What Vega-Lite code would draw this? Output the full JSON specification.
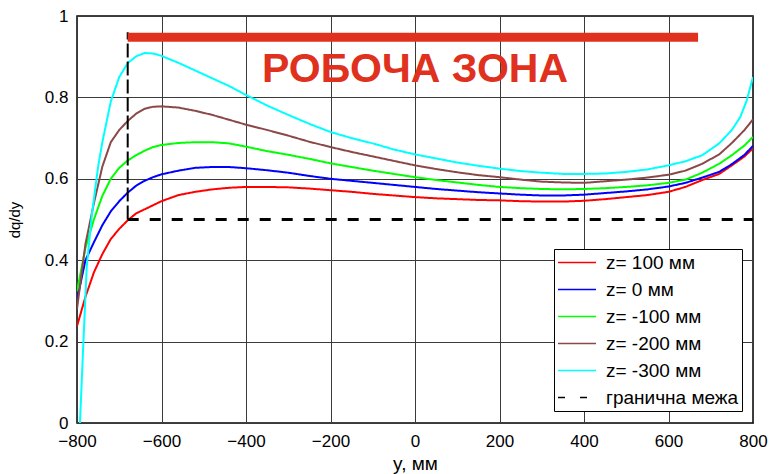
{
  "$schema": "https://vega.github.io/schema/vega-lite/v6.json",
  "width": 676,
  "height": 407,
  "autosize": {"type": "none"},
  "padding": {"left": 77, "top": 16, "right": 23, "bottom": 51},
  "background": "#ffffff",
  "datasets": {
    "curves": [
      {"s": "z= 100 мм", "x": -800, "y": 0.238}, {"s": "z= 100 мм", "x": -780, "y": 0.31}, {"s": "z= 100 мм", "x": -760, "y": 0.37}, {"s": "z= 100 мм", "x": -740, "y": 0.415}, {"s": "z= 100 мм", "x": -720, "y": 0.452}, {"s": "z= 100 мм", "x": -700, "y": 0.477}, {"s": "z= 100 мм", "x": -680, "y": 0.498}, {"s": "z= 100 мм", "x": -660, "y": 0.515}, {"s": "z= 100 мм", "x": -640, "y": 0.525}, {"s": "z= 100 мм", "x": -620, "y": 0.535}, {"s": "z= 100 мм", "x": -600, "y": 0.545}, {"s": "z= 100 мм", "x": -560, "y": 0.56}, {"s": "z= 100 мм", "x": -520, "y": 0.568}, {"s": "z= 100 мм", "x": -480, "y": 0.574}, {"s": "z= 100 мм", "x": -440, "y": 0.578}, {"s": "z= 100 мм", "x": -400, "y": 0.58}, {"s": "z= 100 мм", "x": -350, "y": 0.58}, {"s": "z= 100 мм", "x": -300, "y": 0.579}, {"s": "z= 100 мм", "x": -250, "y": 0.576}, {"s": "z= 100 мм", "x": -200, "y": 0.572}, {"s": "z= 100 мм", "x": -150, "y": 0.568}, {"s": "z= 100 мм", "x": -100, "y": 0.563}, {"s": "z= 100 мм", "x": -50, "y": 0.559}, {"s": "z= 100 мм", "x": 0, "y": 0.555}, {"s": "z= 100 мм", "x": 50, "y": 0.552}, {"s": "z= 100 мм", "x": 100, "y": 0.55}, {"s": "z= 100 мм", "x": 150, "y": 0.548}, {"s": "z= 100 мм", "x": 200, "y": 0.547}, {"s": "z= 100 мм", "x": 250, "y": 0.545}, {"s": "z= 100 мм", "x": 300, "y": 0.544}, {"s": "z= 100 мм", "x": 350, "y": 0.544}, {"s": "z= 100 мм", "x": 400, "y": 0.546}, {"s": "z= 100 мм", "x": 450, "y": 0.55}, {"s": "z= 100 мм", "x": 500, "y": 0.555}, {"s": "z= 100 мм", "x": 550, "y": 0.56}, {"s": "z= 100 мм", "x": 600, "y": 0.568}, {"s": "z= 100 мм", "x": 640, "y": 0.58}, {"s": "z= 100 мм", "x": 680, "y": 0.597}, {"s": "z= 100 мм", "x": 720, "y": 0.612}, {"s": "z= 100 мм", "x": 750, "y": 0.633}, {"s": "z= 100 мм", "x": 780, "y": 0.655}, {"s": "z= 100 мм", "x": 800, "y": 0.675},

      {"s": "z= 0 мм", "x": -800, "y": 0.302}, {"s": "z= 0 мм", "x": -780, "y": 0.4}, {"s": "z= 0 мм", "x": -760, "y": 0.444}, {"s": "z= 0 мм", "x": -740, "y": 0.486}, {"s": "z= 0 мм", "x": -720, "y": 0.52}, {"s": "z= 0 мм", "x": -700, "y": 0.545}, {"s": "z= 0 мм", "x": -680, "y": 0.566}, {"s": "z= 0 мм", "x": -660, "y": 0.583}, {"s": "z= 0 мм", "x": -640, "y": 0.595}, {"s": "z= 0 мм", "x": -620, "y": 0.604}, {"s": "z= 0 мм", "x": -600, "y": 0.611}, {"s": "z= 0 мм", "x": -560, "y": 0.62}, {"s": "z= 0 мм", "x": -520, "y": 0.627}, {"s": "z= 0 мм", "x": -480, "y": 0.629}, {"s": "z= 0 мм", "x": -440, "y": 0.629}, {"s": "z= 0 мм", "x": -400, "y": 0.626}, {"s": "z= 0 мм", "x": -350, "y": 0.621}, {"s": "z= 0 мм", "x": -300, "y": 0.615}, {"s": "z= 0 мм", "x": -250, "y": 0.607}, {"s": "z= 0 мм", "x": -200, "y": 0.6}, {"s": "z= 0 мм", "x": -150, "y": 0.595}, {"s": "z= 0 мм", "x": -100, "y": 0.59}, {"s": "z= 0 мм", "x": -50, "y": 0.585}, {"s": "z= 0 мм", "x": 0, "y": 0.58}, {"s": "z= 0 мм", "x": 50, "y": 0.575}, {"s": "z= 0 мм", "x": 100, "y": 0.571}, {"s": "z= 0 мм", "x": 150, "y": 0.567}, {"s": "z= 0 мм", "x": 200, "y": 0.564}, {"s": "z= 0 мм", "x": 250, "y": 0.561}, {"s": "z= 0 мм", "x": 300, "y": 0.559}, {"s": "z= 0 мм", "x": 350, "y": 0.559}, {"s": "z= 0 мм", "x": 400, "y": 0.561}, {"s": "z= 0 мм", "x": 450, "y": 0.565}, {"s": "z= 0 мм", "x": 500, "y": 0.569}, {"s": "z= 0 мм", "x": 550, "y": 0.574}, {"s": "z= 0 мм", "x": 600, "y": 0.581}, {"s": "z= 0 мм", "x": 640, "y": 0.59}, {"s": "z= 0 мм", "x": 680, "y": 0.603}, {"s": "z= 0 мм", "x": 720, "y": 0.617}, {"s": "z= 0 мм", "x": 750, "y": 0.636}, {"s": "z= 0 мм", "x": 780, "y": 0.659}, {"s": "z= 0 мм", "x": 800, "y": 0.681},

      {"s": "z= -100 мм", "x": -800, "y": 0.324}, {"s": "z= -100 мм", "x": -780, "y": 0.43}, {"s": "z= -100 мм", "x": -760, "y": 0.5}, {"s": "z= -100 мм", "x": -740, "y": 0.558}, {"s": "z= -100 мм", "x": -720, "y": 0.6}, {"s": "z= -100 мм", "x": -700, "y": 0.627}, {"s": "z= -100 мм", "x": -680, "y": 0.645}, {"s": "z= -100 мм", "x": -660, "y": 0.658}, {"s": "z= -100 мм", "x": -640, "y": 0.669}, {"s": "z= -100 мм", "x": -620, "y": 0.678}, {"s": "z= -100 мм", "x": -600, "y": 0.683}, {"s": "z= -100 мм", "x": -560, "y": 0.688}, {"s": "z= -100 мм", "x": -520, "y": 0.69}, {"s": "z= -100 мм", "x": -480, "y": 0.69}, {"s": "z= -100 мм", "x": -440, "y": 0.687}, {"s": "z= -100 мм", "x": -400, "y": 0.679}, {"s": "z= -100 мм", "x": -350, "y": 0.668}, {"s": "z= -100 мм", "x": -300, "y": 0.659}, {"s": "z= -100 мм", "x": -250, "y": 0.649}, {"s": "z= -100 мм", "x": -200, "y": 0.638}, {"s": "z= -100 мм", "x": -150, "y": 0.629}, {"s": "z= -100 мм", "x": -100, "y": 0.62}, {"s": "z= -100 мм", "x": -50, "y": 0.612}, {"s": "z= -100 мм", "x": 0, "y": 0.604}, {"s": "z= -100 мм", "x": 50, "y": 0.597}, {"s": "z= -100 мм", "x": 100, "y": 0.591}, {"s": "z= -100 мм", "x": 150, "y": 0.585}, {"s": "z= -100 мм", "x": 200, "y": 0.58}, {"s": "z= -100 мм", "x": 250, "y": 0.577}, {"s": "z= -100 мм", "x": 300, "y": 0.575}, {"s": "z= -100 мм", "x": 350, "y": 0.574}, {"s": "z= -100 мм", "x": 400, "y": 0.575}, {"s": "z= -100 мм", "x": 450, "y": 0.577}, {"s": "z= -100 мм", "x": 500, "y": 0.58}, {"s": "z= -100 мм", "x": 550, "y": 0.584}, {"s": "z= -100 мм", "x": 600, "y": 0.59}, {"s": "z= -100 мм", "x": 640, "y": 0.598}, {"s": "z= -100 мм", "x": 680, "y": 0.615}, {"s": "z= -100 мм", "x": 720, "y": 0.637}, {"s": "z= -100 мм", "x": 750, "y": 0.658}, {"s": "z= -100 мм", "x": 780, "y": 0.682}, {"s": "z= -100 мм", "x": 800, "y": 0.703},

      {"s": "z= -200 мм", "x": -800, "y": 0.28}, {"s": "z= -200 мм", "x": -780, "y": 0.44}, {"s": "z= -200 мм", "x": -760, "y": 0.54}, {"s": "z= -200 мм", "x": -740, "y": 0.63}, {"s": "z= -200 мм", "x": -720, "y": 0.69}, {"s": "z= -200 мм", "x": -700, "y": 0.72}, {"s": "z= -200 мм", "x": -680, "y": 0.742}, {"s": "z= -200 мм", "x": -660, "y": 0.76}, {"s": "z= -200 мм", "x": -640, "y": 0.772}, {"s": "z= -200 мм", "x": -620, "y": 0.777}, {"s": "z= -200 мм", "x": -600, "y": 0.778}, {"s": "z= -200 мм", "x": -560, "y": 0.775}, {"s": "z= -200 мм", "x": -520, "y": 0.767}, {"s": "z= -200 мм", "x": -480, "y": 0.757}, {"s": "z= -200 мм", "x": -440, "y": 0.745}, {"s": "z= -200 мм", "x": -400, "y": 0.733}, {"s": "z= -200 мм", "x": -350, "y": 0.72}, {"s": "z= -200 мм", "x": -300, "y": 0.706}, {"s": "z= -200 мм", "x": -250, "y": 0.691}, {"s": "z= -200 мм", "x": -200, "y": 0.678}, {"s": "z= -200 мм", "x": -150, "y": 0.666}, {"s": "z= -200 мм", "x": -100, "y": 0.655}, {"s": "z= -200 мм", "x": -50, "y": 0.644}, {"s": "z= -200 мм", "x": 0, "y": 0.633}, {"s": "z= -200 мм", "x": 50, "y": 0.624}, {"s": "z= -200 мм", "x": 100, "y": 0.616}, {"s": "z= -200 мм", "x": 150, "y": 0.609}, {"s": "z= -200 мм", "x": 200, "y": 0.604}, {"s": "z= -200 мм", "x": 250, "y": 0.598}, {"s": "z= -200 мм", "x": 300, "y": 0.593}, {"s": "z= -200 мм", "x": 350, "y": 0.591}, {"s": "z= -200 мм", "x": 400, "y": 0.59}, {"s": "z= -200 мм", "x": 450, "y": 0.594}, {"s": "z= -200 мм", "x": 500, "y": 0.598}, {"s": "z= -200 мм", "x": 550, "y": 0.603}, {"s": "z= -200 мм", "x": 600, "y": 0.61}, {"s": "z= -200 мм", "x": 640, "y": 0.62}, {"s": "z= -200 мм", "x": 680, "y": 0.637}, {"s": "z= -200 мм", "x": 720, "y": 0.66}, {"s": "z= -200 мм", "x": 750, "y": 0.688}, {"s": "z= -200 мм", "x": 780, "y": 0.72}, {"s": "z= -200 мм", "x": 800, "y": 0.746},

      {"s": "z= -300 мм", "x": -793, "y": 0.0}, {"s": "z= -300 мм", "x": -785, "y": 0.195}, {"s": "z= -300 мм", "x": -777, "y": 0.383}, {"s": "z= -300 мм", "x": -765, "y": 0.51}, {"s": "z= -300 мм", "x": -750, "y": 0.63}, {"s": "z= -300 мм", "x": -740, "y": 0.69}, {"s": "z= -300 мм", "x": -720, "y": 0.79}, {"s": "z= -300 мм", "x": -700, "y": 0.85}, {"s": "z= -300 мм", "x": -680, "y": 0.884}, {"s": "z= -300 мм", "x": -660, "y": 0.901}, {"s": "z= -300 мм", "x": -640, "y": 0.909}, {"s": "z= -300 мм", "x": -620, "y": 0.908}, {"s": "z= -300 мм", "x": -600, "y": 0.902}, {"s": "z= -300 мм", "x": -560, "y": 0.885}, {"s": "z= -300 мм", "x": -520, "y": 0.866}, {"s": "z= -300 мм", "x": -480, "y": 0.847}, {"s": "z= -300 мм", "x": -440, "y": 0.828}, {"s": "z= -300 мм", "x": -400, "y": 0.806}, {"s": "z= -300 мм", "x": -350, "y": 0.78}, {"s": "z= -300 мм", "x": -300, "y": 0.757}, {"s": "z= -300 мм", "x": -250, "y": 0.735}, {"s": "z= -300 мм", "x": -200, "y": 0.715}, {"s": "z= -300 мм", "x": -150, "y": 0.7}, {"s": "z= -300 мм", "x": -100, "y": 0.687}, {"s": "z= -300 мм", "x": -50, "y": 0.672}, {"s": "z= -300 мм", "x": 0, "y": 0.66}, {"s": "z= -300 мм", "x": 50, "y": 0.65}, {"s": "z= -300 мм", "x": 100, "y": 0.64}, {"s": "z= -300 мм", "x": 150, "y": 0.632}, {"s": "z= -300 мм", "x": 200, "y": 0.625}, {"s": "z= -300 мм", "x": 250, "y": 0.619}, {"s": "z= -300 мм", "x": 300, "y": 0.615}, {"s": "z= -300 мм", "x": 350, "y": 0.612}, {"s": "z= -300 мм", "x": 400, "y": 0.612}, {"s": "z= -300 мм", "x": 450, "y": 0.613}, {"s": "z= -300 мм", "x": 500, "y": 0.617}, {"s": "z= -300 мм", "x": 550, "y": 0.623}, {"s": "z= -300 мм", "x": 600, "y": 0.633}, {"s": "z= -300 мм", "x": 640, "y": 0.643}, {"s": "z= -300 мм", "x": 680, "y": 0.658}, {"s": "z= -300 мм", "x": 720, "y": 0.687}, {"s": "z= -300 мм", "x": 750, "y": 0.72}, {"s": "z= -300 мм", "x": 770, "y": 0.752}, {"s": "z= -300 мм", "x": 785, "y": 0.792}, {"s": "z= -300 мм", "x": 800, "y": 0.85}
    ],
    "limit": [
      {"x": -680, "y": 0.5},
      {"x": 800, "y": 0.5}
    ],
    "vline": [
      {"x": -680, "y": 0.5, "y2": 0.96}
    ],
    "zone": [
      {"x": -680, "x2": 670, "y": 0.948}
    ],
    "label": [
      {"text": "РОБОЧА ЗОНА", "x": 0, "y": 0.838}
    ]
  },
  "layer": [
    {
      "data": {"name": "curves"},
      "mark": {"type": "line", "strokeWidth": 2, "clip": true},
      "encoding": {
        "x": {"field": "x", "type": "quantitative", "title": "y, мм",
              "scale": {"domain": [-800, 800], "nice": false, "zero": false},
              "axis": {"values": [-800, -600, -400, -200, 0, 200, 400, 600, 800], "labelPadding": 10, "titlePadding": 5, "titleFontSize": 19}},
        "y": {"field": "y", "type": "quantitative", "title": "dq/dy",
              "scale": {"domain": [0, 1], "nice": false, "zero": false},
              "axis": {"values": [0, 0.2, 0.4, 0.6, 0.8, 1], "format": ".1~f", "labelPadding": 9, "titlePadding": 22, "titleFontSize": 15}},
        "color": {"field": "s", "type": "nominal",
                  "scale": {"domain": ["z= 100 мм", "z= 0 мм", "z= -100 мм", "z= -200 мм", "z= -300 мм", "гранична межа"],
                            "range": ["#ff0000", "#0000ff", "#00ff00", "#8b4848", "#00ffff", "#000000"]},
                  "legend": {"orient": "none", "legendX": 477, "legendY": 233, "title": null,
                             "symbolType": "M-1,0H3", "symbolSize": 361, "symbolStrokeWidth": 1.5,
                             "labelFontSize": 19, "labelFont": "Liberation Sans", "labelColor": "#000000",
                             "fillColor": "#ffffff", "strokeColor": "#000000", "padding": 3,
                             "rowPadding": 6, "labelOffset": 28, "labelLimit": 300}},
        "strokeDash": {"field": "s", "type": "nominal",
                       "scale": {"domain": ["z= 100 мм", "z= 0 мм", "z= -100 мм", "z= -200 мм", "z= -300 мм", "гранична межа"],
                                 "range": [[1, 0], [1, 0], [1, 0], [1, 0], [1, 0], [7, 15]]}}
      }
    },
    {
      "data": {"name": "limit"},
      "mark": {"type": "line", "strokeWidth": 3, "color": "#000000", "strokeDash": [11, 11]},
      "encoding": {
        "x": {"field": "x", "type": "quantitative", "title": "y, мм"},
        "y": {"field": "y", "type": "quantitative", "title": "dq/dy"}
      }
    },
    {
      "data": {"name": "vline"},
      "mark": {"type": "rule", "color": "#000000", "strokeWidth": 2, "strokeDash": [14, 4]},
      "encoding": {
        "x": {"field": "x", "type": "quantitative", "title": "y, мм"},
        "y": {"field": "y", "type": "quantitative", "title": "dq/dy"},
        "y2": {"field": "y2"}
      }
    },
    {
      "data": {"name": "zone"},
      "mark": {"type": "rule", "color": "#e0301e", "strokeWidth": 9, "strokeCap": "butt"},
      "encoding": {
        "x": {"field": "x", "type": "quantitative", "title": "y, мм"},
        "x2": {"field": "x2"},
        "y": {"field": "y", "type": "quantitative", "title": "dq/dy"}
      }
    },
    {
      "data": {"name": "label"},
      "mark": {"type": "text", "color": "#e0301e", "font": "Liberation Sans", "fontSize": 41, "fontWeight": "bold", "align": "center", "baseline": "alphabetic"},
      "encoding": {
        "x": {"field": "x", "type": "quantitative", "title": "y, мм"},
        "y": {"field": "y", "type": "quantitative", "title": "dq/dy"},
        "text": {"field": "text"}
      }
    }
  ],
  "config": {
    "view": {"stroke": "#000000", "strokeWidth": 1.5},
    "font": "Liberation Sans",
    "axis": {
      "labelFont": "Liberation Sans", "labelFontSize": 17, "labelColor": "#000000",
      "titleFont": "Liberation Sans", "titleFontSize": 16, "titleFontWeight": "normal", "titleColor": "#000000",
      "grid": true, "gridColor": "#3a3a3a", "gridWidth": 1, "gridOpacity": 1,
      "ticks": false, "domain": false, "labelFlush": false, "labelOverlap": false
    }
  }
}
